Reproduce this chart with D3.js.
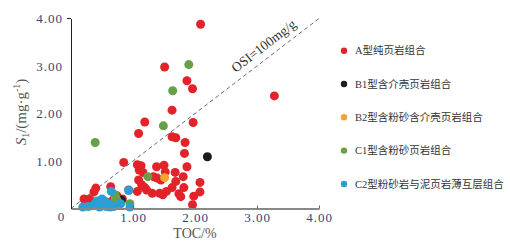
<!DOCTYPE html>
<html>
<head>
<meta charset="utf-8">
<script src="https://cdn.jsdelivr.net/npm/d3@7"></script>
<style>
  body { margin: 0; background: #fff; }
  text { font-family: "Liberation Serif", "Noto Sans CJK SC", serif; }
</style>
</head>
<body>
<div id="chart"></div>
<script>
// x: TOC (%), y: S1 (mg/g)
var seriesNames = ["A型纯页岩组合", "B1型含介壳页岩组合", "B2型含粉砂含介壳页岩组合", "C1型含粉砂页岩组合", "C2型粉砂岩与泥页岩薄互层组合"];
var seriesColors = ["#e3232a", "#1c1c1c", "#f0a52c", "#68a04a", "#2a9ed6"];

var seriesA = [
  [2.09, 3.88], [1.51, 2.98], [1.87, 2.69], [1.96, 2.52], [3.28, 2.37], [1.63, 2.07],
  [1.19, 1.82], [1.97, 1.81], [1.09, 1.58], [1.63, 1.51], [1.69, 1.49], [1.84, 1.39],
  [1.83, 1.16], [0.85, 0.97], [1.87, 0.88], [1.07, 0.92], [1.13, 0.90], [1.38, 0.88],
  [1.50, 0.91], [1.10, 0.81], [1.16, 0.76], [1.52, 0.77], [1.68, 0.76], [1.81, 0.67],
  [1.33, 0.67], [1.39, 0.64], [1.45, 0.60], [1.09, 0.60], [1.69, 0.57], [2.08, 0.55],
  [1.14, 0.50], [1.63, 0.44], [1.19, 0.44], [1.82, 0.44], [1.22, 0.39], [1.07, 0.36],
  [1.54, 0.36], [2.08, 0.35], [1.31, 0.32], [1.43, 0.32], [1.48, 0.29], [1.74, 0.31],
  [1.77, 0.25], [1.98, 0.26], [1.96, 0.08], [0.64, 0.46], [0.40, 0.43], [0.37, 0.35],
  [0.93, 0.39], [0.21, 0.20], [0.30, 0.20], [0.74, 0.27], [0.68, 0.18], [0.83, 0.20],
  [0.63, 0.13], [0.57, 0.08]
];
var seriesB1 = [[2.20, 1.09], [0.81, 0.18]];
var seriesB2 = [[1.51, 0.65], [0.72, 0.22]];
var seriesC1 = [
  [1.90, 3.03], [1.64, 2.48], [1.49, 1.74], [0.39, 1.39], [1.24, 0.67], [0.71, 0.29],
  [0.74, 0.18], [0.95, 0.10], [0.57, 0.13], [0.69, 0.11]
];
var seriesC2 = [
  [0.93, 0.38], [0.65, 0.36], [0.19, 0.03], [0.28, 0.04], [0.36, 0.06], [0.42, 0.16],
  [0.47, 0.13], [0.50, 0.20], [0.54, 0.16], [0.57, 0.04], [0.46, 0.03], [0.61, 0.10],
  [0.53, 0.06], [0.69, 0.04], [0.80, 0.10], [0.95, 0.03], [0.39, 0.10], [0.63, 0.03]
];
var allSeries = [seriesA, seriesB1, seriesB2, seriesC1, seriesC2];

var xTicks = [0, 1, 2, 3, 4];
var yTicks = [1, 2, 3, 4];
var osiLine = [[0, 0], [4, 4]];

var width = 510, height = 247;
var svg = d3.select("#chart").append("svg").attr("width", width).attr("height", height);

var x = d3.scaleLinear().domain([0, 4]).range([71, 319]);
var y = d3.scaleLinear().domain([0, 4]).range([208.5, 18.5]);

// dashed OSI line
svg.append("path")
  .datum(osiLine)
  .attr("fill", "none")
  .attr("stroke", "#444")
  .attr("stroke-width", 0.8)
  .attr("stroke-dasharray", "4,3")
  .attr("d", d3.line().x(function (d) { return x(d[0]); }).y(function (d) { return y(d[1]); }));

var ang = -Math.atan((y(0) - y(4)) / (x(4) - x(0))) * 180 / Math.PI;
svg.append("text")
  .attr("transform", "translate(" + (x(3.2) - 3) + "," + (y(3.2) - 7) + ") rotate(" + ang + ")")
  .attr("text-anchor", "middle")
  .attr("font-size", 13.5)
  .attr("fill", "#333")
  .text("OSI=100mg/g");

// points
allSeries.forEach(function (data, i) {
  svg.append("g").selectAll("circle")
    .data(data)
    .enter()
    .append("circle")
    .attr("cx", function (d) { return x(d[0]); })
    .attr("cy", function (d) { return y(d[1]); })
    .attr("r", 4.5)
    .attr("fill", seriesColors[i]);
});

// bottom axis
var xAxis = svg.append("g")
  .attr("transform", "translate(0," + y(0) + ")")
  .call(d3.axisBottom(x).tickValues(xTicks.slice(1)).tickSize(-3).tickSizeOuter(0).tickFormat(d3.format(".2f")));
xAxis.select(".domain").attr("stroke", "#888").attr("stroke-width", 2);
xAxis.selectAll(".tick line").attr("stroke", "#666");
xAxis.selectAll(".tick text")
  .attr("y", 4).attr("dy", "0.71em")
  .attr("font-size", 13).attr("letter-spacing", "1px")
  .attr("fill", "#2c4683").attr("font-family", "Liberation Serif");
svg.append("text")
  .attr("x", 61).attr("y", 221)
  .attr("text-anchor", "middle")
  .attr("font-size", 13).attr("fill", "#2c4683")
  .text("0");

// left axis
var yAxis = svg.append("g")
  .attr("transform", "translate(" + x(0) + ",0)")
  .call(d3.axisLeft(y).tickValues(yTicks).tickSize(0).tickPadding(8).tickFormat(d3.format(".2f")));
yAxis.select(".domain").attr("stroke", "#222").attr("stroke-width", 1);
yAxis.selectAll(".tick text")
  .attr("font-size", 13).attr("letter-spacing", "1px")
  .attr("fill", "#2c4683").attr("font-family", "Liberation Serif");
svg.append("line")
  .attr("x1", x(0) - 4).attr("x2", x(0))
  .attr("y1", y(4)).attr("y2", y(4))
  .attr("stroke", "#222");

// axis titles
svg.append("text")
  .attr("x", 195).attr("y", 238)
  .attr("text-anchor", "middle")
  .attr("font-size", 14).attr("fill", "#555")
  .text("TOC/%");

var yt = svg.append("text")
  .attr("transform", "translate(26,112) rotate(-90)")
  .attr("text-anchor", "middle")
  .attr("font-size", 15).attr("fill", "#555");
yt.append("tspan").attr("font-style", "italic").text("S");
yt.append("tspan").attr("font-size", 10).attr("dy", 3).text("1");
yt.append("tspan").attr("dy", -3).text("/(mg·g");
yt.append("tspan").attr("font-size", 10).attr("dy", -6).text("-1");
yt.append("tspan").attr("dy", 6).text(")");

// legend
var legend = svg.append("g").selectAll("g")
  .data(seriesNames)
  .enter()
  .append("g")
  .attr("transform", function (d, i) { return "translate(344," + (50.7 + i * 33.3) + ")"; });
legend.append("circle")
  .attr("r", 3.2)
  .attr("fill", function (d, i) { return seriesColors[i]; });
legend.append("text")
  .attr("x", 11).attr("dy", "0.35em")
  .attr("font-size", 10.5).attr("fill", "#333")
  .text(function (d) { return d; });
</script>
</body>
</html>
